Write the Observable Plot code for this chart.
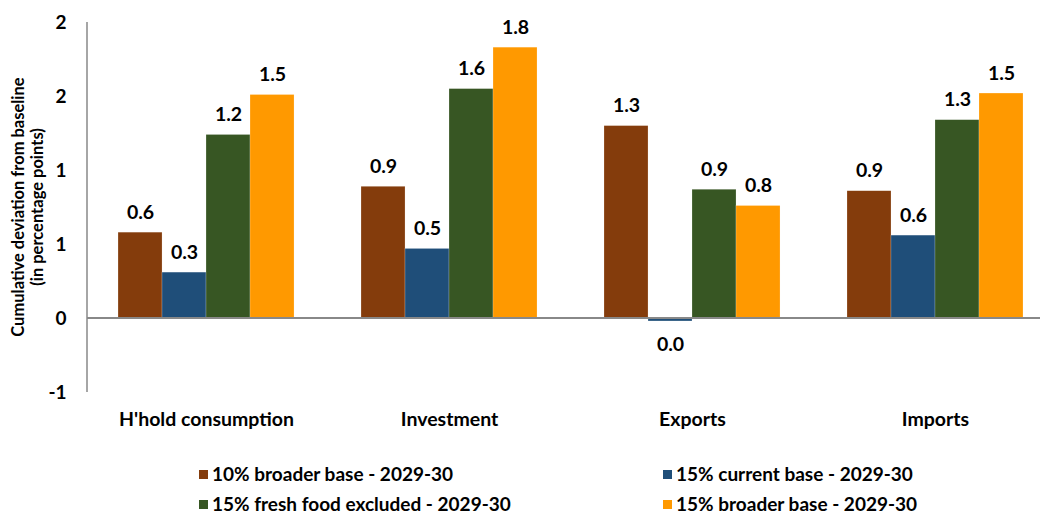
<!DOCTYPE html>
<html>
<head>
<meta charset="utf-8">
<script src="https://cdn.jsdelivr.net/npm/d3@7"></script>
<script src="https://cdn.jsdelivr.net/npm/@observablehq/plot@0.6"></script>
<style>
  html, body { margin: 0; padding: 0; background: #fff; }
  #wrap { position: relative; width: 1043px; height: 515px; font-family: Lato, "Open Sans", sans-serif; color: #000; overflow: hidden; }
  #ytitle { position: absolute; left: 28px; top: 207px; width: 0; height: 0; }
  #ytitle div { position: absolute; transform: translate(-50%, -50%) rotate(-90deg); white-space: nowrap; text-align: center; font-size: 16.5px; font-weight: 700; line-height: 19px; }
  .leg { position: absolute; display: flex; align-items: center; font-size: 19px; font-weight: 700; white-space: nowrap; line-height: 20px; }
  .leg span.sw { display: inline-block; width: 9px; height: 9px; margin-right: 4px; }
</style>
</head>
<body>
<div id="wrap">
  <div id="chart"></div>
  <div id="ytitle"><div>Cumulative deviation from baseline<br>(in percentage points)</div></div>
  <div id="legend"></div>
</div>
<script>
const categories = ["H'hold consumption", "Investment", "Exports", "Imports"];
const seriesNames = [
  "10% broader base - 2029-30",
  "15% current base - 2029-30",
  "15% fresh food excluded - 2029-30",
  "15% broader base - 2029-30"
];
const seriesColors = ["#843C0C", "#1F4E79", "#375623", "#FF9900"];
const broader10 = [0.58, 0.89, 1.30, 0.86];
const current15 = [0.31, 0.47, -0.02, 0.56];
const freshFood15 = [1.24, 1.55, 0.87, 1.34];
const broader15 = [1.51, 1.83, 0.76, 1.52];
const yTicks = [-0.5, 0, 0.5, 1, 1.5, 2];
const yTickLabels = ["-1", "0", "1", "1", "2", "2"];

const seriesValues = [broader10, current15, freshFood15, broader15];
const data = [];
categories.forEach((c, i) => {
  seriesNames.forEach((s, j) => data.push({category: c, series: s, value: seriesValues[j][i]}));
});
const fmt = v => (Math.round(v * 10) / 10 + 0).toFixed(1).replace("-0.0", "0.0");

const W = 1043, H = 440, ML = 87, MR = 3, MT = 22, MB = 48;
const chart = Plot.plot({
  width: W,
  height: H,
  marginLeft: ML,
  marginRight: MR,
  marginTop: MT,
  marginBottom: MB,
  style: {fontFamily: "Lato, 'Open Sans', sans-serif", background: "#fff", overflow: "visible"},
  fx: {domain: categories, paddingInner: 0.2757, paddingOuter: 0.0988, align: 0.646, round: false, label: null},
  x: {domain: seriesNames, padding: 0, round: false, axis: null},
  y: {domain: [-0.5, 2], axis: null},
  color: {domain: seriesNames, range: seriesColors},
  marks: [
    Plot.barY(data, {fx: "category", x: "series", y: "value", fill: "series", stroke: "#fff", strokeWidth: 0.5, strokeOpacity: 0.4}),
    Plot.axisY({ticks: yTicks, tickFormat: d => yTickLabels[yTicks.indexOf(d)], tickSize: 0, tickPadding: 52, fontSize: 19, fontWeight: "bold", label: null}),
    Plot.axisFx({anchor: "bottom", tickSize: 0, tickPadding: 20, fontSize: 19.5, fontWeight: "bold", label: null}),
    Plot.text(data.filter(d => d.value >= 0), {fx: "category", x: "series", y: "value", text: d => fmt(d.value), dy: -20, fontSize: 19.5, fontWeight: "bold", fill: "#000"}),
    Plot.text(data.filter(d => d.value < 0), {fx: "category", x: "series", y: "value", text: d => fmt(d.value), dy: 23, fontSize: 19.5, fontWeight: "bold", fill: "#000"})
  ]
});
document.getElementById("chart").appendChild(chart);

// axis line and zero line across the whole frame, placed with the plot's own y scale
const ys = chart.scale("y");
const ns = "http://www.w3.org/2000/svg";
function line(x1, x2, y1, y2, w) {
  const l = document.createElementNS(ns, "line");
  l.setAttribute("x1", x1); l.setAttribute("x2", x2);
  l.setAttribute("y1", y1); l.setAttribute("y2", y2);
  l.setAttribute("stroke", "#888"); l.setAttribute("stroke-width", w);
  chart.appendChild(l);
}
line(ML, ML, ys.apply(2), ys.apply(-0.5), 1.5);
line(ML, W - MR, ys.apply(0), ys.apply(0), 2);

const legend = document.getElementById("legend");
const legPos = [[199, 474], [663, 474], [199, 504], [663, 504]];
seriesNames.forEach((s, i) => {
  const el = document.createElement("div");
  el.className = "leg";
  el.style.left = legPos[i][0] + "px";
  el.style.top = (legPos[i][1] - 10) + "px";
  el.style.height = "20px";
  el.innerHTML = `<span class="sw" style="background:${seriesColors[i]}"></span>${s}`;
  legend.appendChild(el);
});
</script>
</body>
</html>
